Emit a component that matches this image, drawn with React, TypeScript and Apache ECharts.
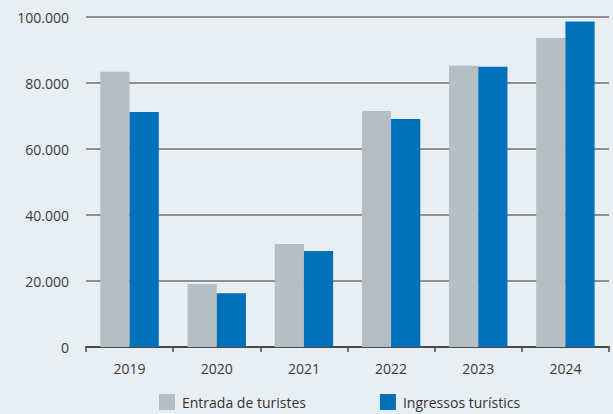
import React, { useEffect, useRef } from "react";
import * as echarts from "echarts";

const categories = ["2019", "2020", "2021", "2022", "2023", "2024"];
const entrada = [83400, 19100, 31200, 71500, 85200, 93600];
const ingressos = [71200, 16300, 29100, 69100, 84900, 98600];
const seriesNames = ["Entrada de turistes", "Ingressos turístics"];

const fmt = (v: number) => {
  if (v === 0) return "0";
  const s = String(v);
  return s.replace(/\B(?=(\d{3})+(?!\d))/g, ".");
};

export default function App() {
  const ref = useRef<HTMLDivElement>(null);
  useEffect(() => {
    if (!ref.current) return;
    const chart = echarts.init(ref.current, undefined, { renderer: "svg" });
    const font = "'Open Sans', 'Noto Sans', sans-serif";
    chart.setOption({
      animation: false,
      backgroundColor: "#e9eef2",
      textStyle: { fontFamily: font },
      grid: { left: 86, right: 4, top: 17, bottom: 67, containLabel: false },
      legend: {
        left: 159,
        bottom: 4,
        padding: 0,
        itemWidth: 16,
        itemHeight: 16,
        itemGap: 74,
        icon: "rect",
        textStyle: { fontSize: 14, color: "#333333", fontFamily: font, padding: [0, 0, 0, 2] },
        data: seriesNames,
      },
      xAxis: {
        type: "category",
        data: categories,
        axisLine: { lineStyle: { color: "#4a4a4a", width: 2 } },
        axisTick: { show: true, length: 5, lineStyle: { color: "#4a4a4a", width: 1.5 } },
        axisLabel: { fontSize: 14, color: "#3a3a3a", margin: 14, fontFamily: font },
      },
      yAxis: {
        type: "value",
        min: 0,
        max: 100000,
        interval: 20000,
        axisLine: { show: false },
        axisTick: { show: false },
        axisLabel: { fontSize: 14, color: "#3a3a3a", margin: 17, fontFamily: font, formatter: fmt },
        splitLine: { lineStyle: { color: "#6e7173", width: 1.5 } },
      },
      series: [
        {
          name: seriesNames[0],
          type: "bar",
          data: entrada,
          barGap: "0%",
          barCategoryGap: "33%",
          itemStyle: { color: "#b4bec3" },
        },
        {
          name: seriesNames[1],
          type: "bar",
          data: ingressos,
          itemStyle: { color: "#0071b9" },
        },
      ],
    });
    return () => chart.dispose();
  }, []);
  return <div ref={ref} style={{ width: 613, height: 414, position: "absolute", left: 0, top: 0 }} />;
}
